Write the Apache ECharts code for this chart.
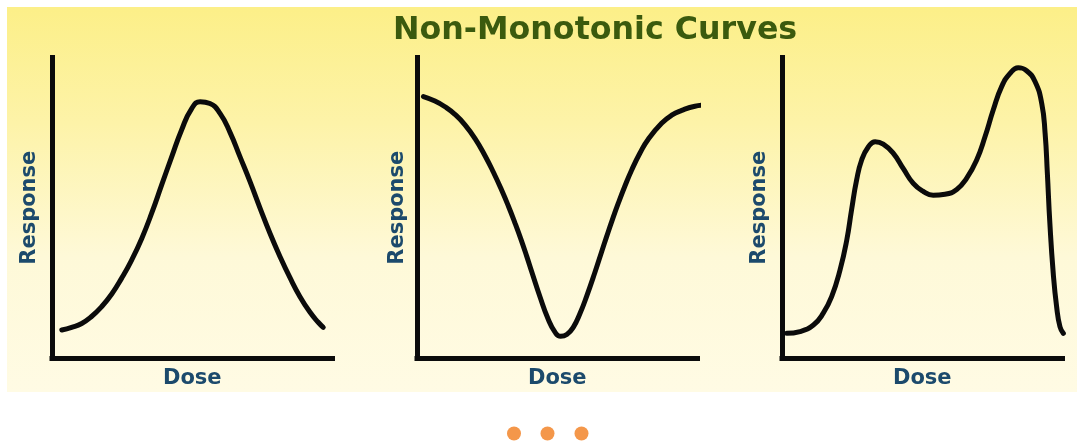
<!DOCTYPE html>
<html>
<head>
<meta charset="utf-8">
<script src="https://cdn.jsdelivr.net/npm/echarts@6/dist/echarts.min.js"></script>
<style>
  html, body { margin: 0; padding: 0; background: #ffffff; }
  #chart { width: 1077px; height: 442px; }
</style>
</head>
<body>
<div id="chart"></div>
<script>
// ---- Data (dose on 0–100 scale, response on 0–100 scale) ----
const titleText = 'Non-Monotonic Curves';
const xAxisName = 'Dose';
const yAxisName = 'Response';

// Panel 1: inverted U (bell)
const dose1 = [3.5, 7.0, 10.6, 14.1, 17.7, 21.3, 24.8, 28.4, 32.0, 35.5, 39.1, 42.7, 46.2, 49.8, 52.8, 56.3, 59.9, 63.5, 67.0, 70.6, 74.2, 77.7, 81.3, 84.8, 88.4, 92.0, 94.9, 96.7];
const resp1 = [9.3, 10.2, 11.5, 13.8, 17.1, 21.3, 26.5, 32.6, 39.8, 48.1, 57.6, 67.0, 75.9, 83.0, 85.3, 84.7, 81.4, 75.0, 67.0, 58.7, 49.8, 41.5, 33.7, 26.8, 20.4, 15.2, 11.9, 10.2];

// Panel 2: U-shaped
const dose2 = [2.3, 6.4, 10.0, 13.5, 17.1, 20.7, 24.2, 27.2, 30.2, 32.6, 34.9, 37.1, 39.1, 40.9, 43.9, 46.6, 49.2, 51.2, 53.4, 55.7, 58.1, 60.5, 63.5, 65.8, 67.6, 69.6, 71.8, 74.2, 76.5, 79.5, 82.5, 87.2, 90.8, 94.4, 99.1, 103.3];
const resp2 = [87.0, 85.5, 83.6, 81.1, 77.6, 73.0, 67.4, 61.9, 55.8, 50.5, 45.0, 39.4, 33.9, 28.7, 20.2, 13.3, 8.6, 7.2, 7.8, 10.2, 14.8, 20.6, 28.7, 35.3, 40.4, 45.9, 51.6, 57.4, 62.5, 68.2, 72.9, 78.1, 80.8, 82.4, 83.8, 84.2];

// Panel 3: multi-phasic
const dose3 = [1.7, 6.4, 11.2, 14.7, 17.7, 20.7, 23.1, 24.8, 26.6, 28.4, 30.8, 33.2, 36.1, 39.7, 43.2, 46.8, 50.4, 53.9, 58.1, 62.3, 65.8, 69.4, 72.4, 75.3, 78.3, 81.3, 84.2, 87.2, 90.2, 92.6, 93.8, 94.6, 95.5, 96.7, 97.9, 99.1, 100.3];
const resp3 = [8.2, 8.8, 11.0, 14.9, 20.4, 29.3, 39.3, 49.3, 59.2, 65.9, 70.3, 72.0, 71.2, 68.1, 63.1, 58.1, 55.4, 54.2, 54.5, 56.1, 59.8, 65.9, 73.7, 82.5, 90.3, 94.7, 96.6, 95.6, 92.0, 84.7, 74.8, 61.5, 44.8, 28.2, 17.1, 10.4, 8.2];

const panels = [
  { dose: dose1, resp: resp1 },
  { dose: dose2, resp: resp2 },
  { dose: dose3, resp: resp3 }
];

// ---- Layout ----
const gridBoxes = [
  { left: 52,  right: 744.5, top: 57.5, bottom: 84 },
  { left: 417, right: 379.5, top: 57.5, bottom: 84 },
  { left: 782, right: 14.5,  top: 57.5, bottom: 84 }
];
const yNameGaps = [12, 9, 12];

const axisColor = '#0b0b0b';
const labelColor = '#1c4a6c';
const font = 'DejaVu Sans';

const chart = echarts.init(document.getElementById('chart'), null, { renderer: 'canvas' });

const grids = gridBoxes.map(g => Object.assign({ containLabel: false }, g));
const xAxes = panels.map((p, i) => ({
  type: 'value', gridIndex: i, min: 0, max: 100,
  name: xAxisName, nameLocation: 'middle', nameGap: 10,
  nameTextStyle: { color: labelColor, fontFamily: font, fontWeight: 'bold', fontSize: 21 },
  axisLine: { show: true, onZero: false, lineStyle: { color: axisColor, width: 5, cap: 'square' } },
  axisTick: { show: false }, axisLabel: { show: false }, splitLine: { show: false }
}));
const yAxes = panels.map((p, i) => ({
  type: 'value', gridIndex: i, min: 0, max: 100,
  name: yAxisName, nameLocation: 'middle', nameGap: yNameGaps[i], nameRotate: 90,
  nameTextStyle: { color: labelColor, fontFamily: font, fontWeight: 'bold', fontSize: 21 },
  axisLine: { show: true, onZero: false, lineStyle: { color: axisColor, width: 5, cap: 'square' } },
  axisTick: { show: false }, axisLabel: { show: false }, splitLine: { show: false }
}));
const series = panels.map((p, i) => ({
  type: 'line', xAxisIndex: i, yAxisIndex: i,
  data: p.dose.map((d, k) => [d, p.resp[k]]),
  smooth: 0.5, showSymbol: false, symbol: 'none', clip: false,
  lineStyle: { color: axisColor, width: 5, cap: 'round', join: 'round' },
  silent: true, animation: false
}));

chart.setOption({
  animation: false,
  backgroundColor: '#ffffff',
  title: {
    text: titleText, left: 388, top: 10,
    textStyle: { color: '#3b5a0e', fontFamily: font, fontWeight: 'bold', fontSize: 31.7 }
  },
  graphic: [
    {
      type: 'rect', z: -10, silent: true,
      shape: { x: 7, y: 7, width: 1070, height: 385 },
      style: {
        fill: new echarts.graphic.LinearGradient(0, 0, 0, 1, [
          { offset: 0, color: '#fcef88' },
          { offset: 0.3, color: '#fdf3a8' },
          { offset: 0.65, color: '#fef9d8' },
          { offset: 1, color: '#fffbe4' }
        ])
      }
    },
    { type: 'circle', silent: true, shape: { cx: 514, cy: 433.5, r: 7 }, style: { fill: '#f4974a' } },
    { type: 'circle', silent: true, shape: { cx: 547.5, cy: 433.5, r: 7 }, style: { fill: '#f4974a' } },
    { type: 'circle', silent: true, shape: { cx: 581.5, cy: 433.5, r: 7 }, style: { fill: '#f4974a' } }
  ],
  grid: grids,
  xAxis: xAxes,
  yAxis: yAxes,
  series: series
});
</script>
</body>
</html>
